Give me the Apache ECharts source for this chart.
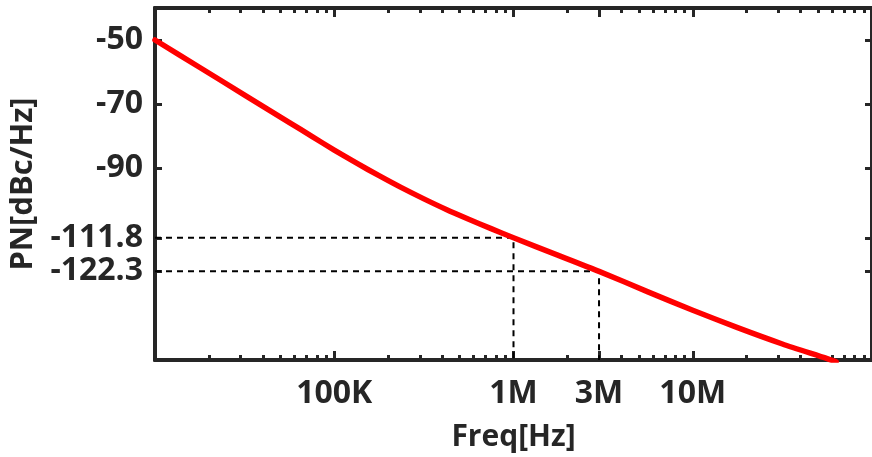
<!DOCTYPE html>
<html>
<head>
<meta charset="utf-8">
<script src="https://cdn.jsdelivr.net/npm/echarts@6/dist/echarts.min.js"></script>
<style>
  html, body { margin: 0; padding: 0; background: #fff; }
  #chart { width: 872px; height: 457px; }
</style>
</head>
<body>
<div id="chart"></div>
<script>
// Phase-noise curve: offset frequency [Hz] and PN [dBc/Hz]
const freqHz = [1e4, 1.778e4, 3.162e4, 5.623e4, 7.499e4, 1e5, 1.334e5, 1.778e5,
  2.371e5, 3.162e5, 4.217e5, 5.623e5, 7.499e5, 1e6, 1.778e6, 3e6, 5.623e6,
  1e7, 1.778e7, 3.162e7, 5.623e7, 6.31e7];
const pnDb = [-50, -58.6, -67.2, -75.8, -80.1, -84.4, -88.5, -92.4,
  -96.15, -99.65, -102.96, -106.0, -108.94, -111.8, -117.3, -122.3, -128.7,
  -134.45, -139.9, -145.0, -149.6, -150.6];

// Marked operating points
const markFreq = [1e6, 3e6];
const markPn = [-111.8, -122.3];

// Axis ticks and labels
const xMajorHz = [1e5, 1e6, 3e6, 1e7];
const xMajorText = ['100K', '1M', '3M', '10M'];
const yTicks = [-50, -70, -90, -111.8, -122.3];
const xRangeHz = [1e4, 1e8];
const yRange = [-150, -40];

const lg = Math.log10;
const xMinor = [];
for (let d = 4; d < 8; d++) {
  for (let k = 2; k <= 9; k++) xMinor.push(lg(k * Math.pow(10, d)));
}
const xMajor = xMajorHz.map(lg);
const labelFor = {};
xMajor.forEach((v, i) => { labelFor[v.toFixed(4)] = xMajorText[i]; });

const ink = '#262626';
const font = '"Open Sans", "DejaVu Sans", sans-serif';

function xAxisDef(pos, ticks, len, showLabel) {
  return {
    type: 'value', position: pos, min: lg(xRangeHz[0]), max: lg(xRangeHz[1]),
    axisLine: { show: true, onZero: false, lineStyle: { color: ink, width: 4 } },
    splitLine: { show: false },
    axisTick: { show: true, inside: true, length: len, customValues: ticks,
      lineStyle: { color: ink, width: 3 } },
    axisLabel: showLabel ? {
      show: true, customValues: xMajor, margin: 18,
      fontFamily: font, fontWeight: 'bold', fontSize: 32, color: ink,
      formatter: v => labelFor[v.toFixed(4)] || ''
    } : { show: false }
  };
}

function yAxisDef(pos, showLabel) {
  return {
    type: 'value', position: pos, min: yRange[0], max: yRange[1],
    axisLine: { show: true, onZero: false, lineStyle: { color: ink, width: 4 } },
    splitLine: { show: false },
    axisTick: { show: true, inside: true, length: 7, customValues: yTicks,
      lineStyle: { color: ink, width: 3 } },
    axisLabel: showLabel ? {
      show: true, customValues: yTicks, margin: 12,
      fontFamily: font, fontWeight: 'bold', fontSize: 32, color: ink,
      formatter: v => String(v)
    } : { show: false },
    name: showLabel ? 'PN[dBc/Hz]' : '',
    nameLocation: 'middle', nameGap: 116,
    nameTextStyle: { fontFamily: font, fontWeight: 'bold', fontSize: 31, color: ink }
  };
}

const xAxes = [
  xAxisDef('bottom', xMajor, 9, true),
  xAxisDef('bottom', xMinor, 5, false),
  xAxisDef('top', xMajor, 9, false),
  xAxisDef('top', xMinor, 5, false)
];
xAxes[0].name = 'Freq[Hz]';
xAxes[0].nameLocation = 'middle';
xAxes[0].nameGap = 62;
xAxes[0].nameTextStyle = { fontFamily: font, fontWeight: 'bold', fontSize: 30, color: ink };

const guideSeries = markFreq.map((f, i) => ({
  type: 'line', xAxisIndex: 0, yAxisIndex: 0, symbol: 'none', silent: true, z: 1,
  lineStyle: { color: '#000', width: 2, type: [6, 5] },
  data: [[lg(xRangeHz[0]), markPn[i]], [lg(f), markPn[i]], [lg(f), yRange[0]]]
}));

const chart = echarts.init(document.getElementById('chart'), null, { renderer: 'canvas' });
chart.setOption({
  animation: false,
  backgroundColor: '#fff',
  grid: { left: 153, right: -8, top: 8, bottom: 97, containLabel: false },
  xAxis: xAxes,
  yAxis: [yAxisDef('left', true), yAxisDef('right', false)],
  series: guideSeries.concat([{
    type: 'line', xAxisIndex: 0, yAxisIndex: 0, symbol: 'none', z: 3,
    smooth: 0.25, clip: true,
    lineStyle: { color: '#ff0000', width: 5.5, join: 'round', cap: 'round' },
    data: freqHz.map((f, i) => [lg(f), pnDb[i]])
  }])
});
</script>
</body>
</html>
